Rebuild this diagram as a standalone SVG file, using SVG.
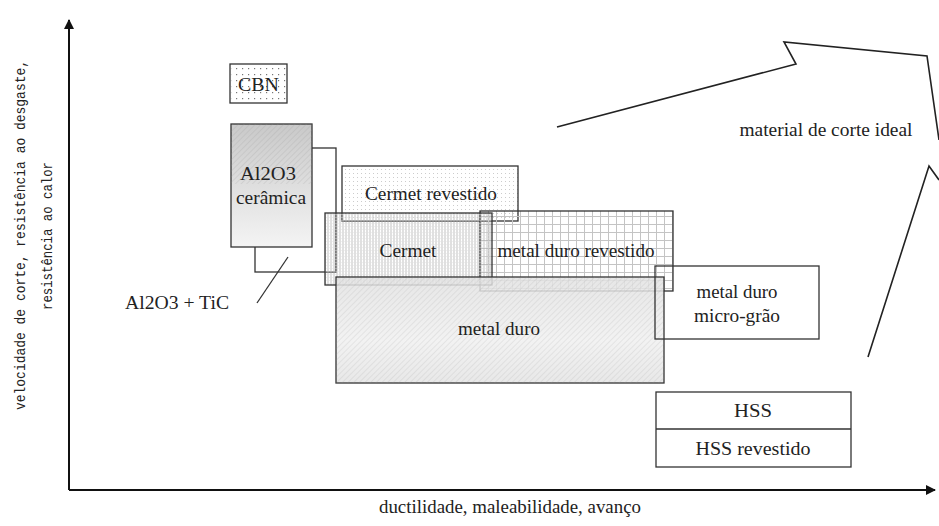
<svg xmlns="http://www.w3.org/2000/svg" width="939" height="526" viewBox="0 0 939 526">
<style>
.box{stroke:#333;stroke-width:1.3;}
.ax{stroke:#111;stroke-width:2;fill:none;}
.t{font-family:"Liberation Serif","Times New Roman",serif;font-size:19px;fill:#222;text-anchor:middle;}
.m{font-family:"Liberation Mono","Courier New",monospace;font-size:15px;fill:#222;text-anchor:middle;}
.ln{stroke:#222;stroke-width:1.6;fill:none;}
</style>
<defs>
<pattern id="dots" width="6" height="6" patternUnits="userSpaceOnUse"><rect x="2" y="2" width="1.2" height="1.2" fill="#777"/></pattern>
<pattern id="ldots" width="4" height="4" patternUnits="userSpaceOnUse"><rect x="1" y="1" width="1" height="1" fill="#ccc"/></pattern>
<pattern id="hatch" width="4" height="4" patternUnits="userSpaceOnUse" patternTransform="rotate(45)"><line x1="0" y1="0" x2="0" y2="4" stroke="#999" stroke-width="0.8"/></pattern>
<pattern id="vlines" width="3" height="3" patternUnits="userSpaceOnUse"><line x1="1" y1="0" x2="1" y2="3" stroke="#aaa" stroke-width="0.8"/><rect x="0" y="1" width="3" height="0.5" fill="#ddd"/></pattern>
<pattern id="grid" width="8" height="8" patternUnits="userSpaceOnUse"><path d="M0 0.5H8M0.5 0V8" stroke="#c4c4c4" stroke-width="1"/></pattern>
<linearGradient id="gcer" x1="0" y1="0" x2="0" y2="1"><stop offset="0" stop-color="#c9c9c9"/><stop offset="1" stop-color="#f4f4f4"/></linearGradient>
<linearGradient id="gmd" x1="0" y1="0" x2="0" y2="1"><stop offset="0" stop-color="#e2e2e2"/><stop offset="0.6" stop-color="#f0f0f0"/><stop offset="1" stop-color="#e4e4e4"/></linearGradient>
<marker id="ah" viewBox="0 0 10 10" refX="9" refY="5" markerWidth="5" markerHeight="5" orient="auto"><path d="M0 0L10 5L0 10Z" fill="#111"/></marker>
</defs>

<g id="connectors">
<line class="ax" x1="69" y1="490" x2="69" y2="20" marker-end="url(#ah)"/>
<line class="ax" x1="69" y1="490" x2="935" y2="490" marker-end="url(#ah)"/>
<polyline class="ln" points="557,127 796,64 784,42 927,56 939,140"/>
<polyline class="ln" points="868,357 929,166 939,180"/>
<line stroke="#333" stroke-width="1.3" x1="288" y1="257" x2="257" y2="303"/>
</g>

<g id="al2o3-tic"><rect class="box" x="255" y="148" width="81" height="124" fill="none"/></g>
<g id="al2o3-ceramica">
<rect class="box" x="231" y="124" width="81" height="123" fill="url(#gcer)"/>
<rect x="231" y="124" width="81" height="60" fill="url(#hatch)" opacity="0.5"/>
<text class="t" x="268" y="180" textLength="56" lengthAdjust="spacingAndGlyphs">Al2O3</text>
<text class="t" x="271" y="204" textLength="70" lengthAdjust="spacingAndGlyphs">cerâmica</text>
</g>
<g id="cbn">
<rect class="box" x="230" y="64" width="57" height="39" fill="#fff"/>
<rect x="230" y="64" width="57" height="39" fill="url(#dots)"/>
<text class="t" x="258.5" y="91" textLength="41" lengthAdjust="spacingAndGlyphs">CBN</text>
</g>
<g id="cermet-revestido">
<rect class="box" x="342" y="166" width="176" height="55" fill="url(#ldots)"/>
<text class="t" x="431" y="200" textLength="132" lengthAdjust="spacingAndGlyphs">Cermet revestido</text>
</g>
<g id="metal-duro-revestido">
<rect class="box" x="480" y="211" width="193" height="80" fill="url(#grid)"/>
<text class="t" x="576" y="257" textLength="157" lengthAdjust="spacingAndGlyphs">metal duro revestido</text>
</g>
<g id="cermet">
<rect class="box" x="325" y="213" width="167" height="72" fill="url(#vlines)" fill-opacity="0.9"/>
<text class="t" x="408" y="257" textLength="57" lengthAdjust="spacingAndGlyphs">Cermet</text>
</g>
<g id="metal-duro">
<rect class="box" x="336" y="277" width="328" height="106" fill="url(#gmd)" fill-opacity="0.85"/>
<rect x="336" y="277" width="328" height="106" fill="url(#hatch)" opacity="0.4"/>
<text class="t" x="499" y="335" textLength="82" lengthAdjust="spacingAndGlyphs">metal duro</text>
</g>
<g id="metal-duro-micro-grao">
<rect class="box" x="655" y="266" width="164" height="73" fill="none"/>
<text class="t" x="737" y="298" textLength="81" lengthAdjust="spacingAndGlyphs">metal duro</text>
<text class="t" x="737" y="322" textLength="86" lengthAdjust="spacingAndGlyphs">micro-grão</text>
</g>
<g id="hss">
<rect class="box" x="656" y="392" width="195" height="75" fill="#fff"/>
<line class="box" x1="656" y1="429" x2="851" y2="429"/>
<text class="t" x="753" y="417" textLength="38" lengthAdjust="spacingAndGlyphs">HSS</text>
<text class="t" x="753" y="455" textLength="115" lengthAdjust="spacingAndGlyphs">HSS revestido</text>
</g>
<g id="labels">
<text class="t" x="177" y="309" textLength="104" lengthAdjust="spacingAndGlyphs">Al2O3 + TiC</text>
<text class="t" x="826" y="136" textLength="173" lengthAdjust="spacingAndGlyphs">material de corte ideal</text>
<text class="t" x="510" y="513" textLength="262" lengthAdjust="spacingAndGlyphs">ductilidade, maleabilidade, avanço</text>
<text class="m" transform="translate(25,235) rotate(-90)" textLength="350" lengthAdjust="spacingAndGlyphs">velocidade de corte, resistência ao desgaste,</text>
<text class="m" transform="translate(52,236) rotate(-90)" textLength="148" lengthAdjust="spacingAndGlyphs">resistência ao calor</text>
</g>
</svg>
